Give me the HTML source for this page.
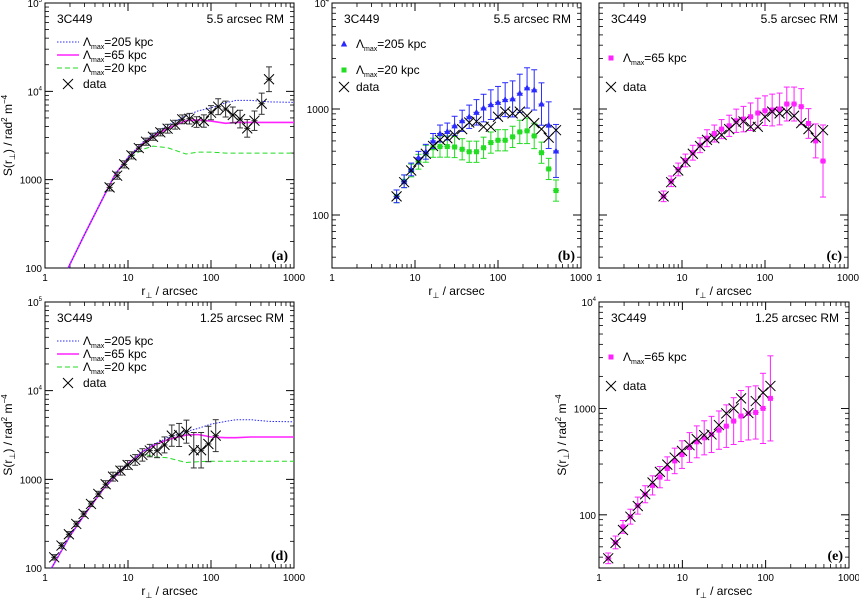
<!DOCTYPE html>
<html><head><meta charset="utf-8"><style>
html,body{margin:0;padding:0;background:#fff;}
svg{display:block;font-family:"Liberation Sans",sans-serif;}
</style></head><body>
<svg id="fig" width="859" height="598" viewBox="0 0 859 598"></svg>
<script>
// ---------- data ----------
const xA = [6.0,7.4,9.0,11,13.5,16.5,20,24.5,30,37,45,55,67,82,100,122,150,183,224,273,334,408,500];
const dataA = [818,1109,1490,1884,2280,2690,3060,3435,3775,4190,4820,4900,4490,4610,5730,6700,6300,5400,4850,3810,4650,7240,13700];
const errA = [0.04,0.04,0.04,0.04,0.04,0.04,0.04,0.04,0.05,0.05,0.05,0.06,0.06,0.07,0.08,0.09,0.09,0.09,0.1,0.1,0.11,0.12,0.14];
const modelXA = [1.9,3,5,7,10,15,20,30,50,70,100,150,200,300,500,700,1000];
const blueA = [100,240,620,1150,1800,2650,3300,4100,5300,6000,6500,7400,7900,7900,7600,7550,7500];
const pinkA = [100,240,620,1150,1750,2550,3100,3800,4650,4750,4600,4350,4450,4450,4450,4450,4450];
const greenA = [100,240,620,1150,1700,2200,2400,2300,1950,2050,2050,2000,2000,2000,2000,2000,2000];

const dataB = [150,204,263,318,378,448,511,530,570,646,746,763,679,679,845,944,910,944,863,736,646,537,631];
const blueB = [150,208,269,347,395,500,587,613,694,774,845,930,1021,1099,1156,1225,1245,1407,1581,1514,1114,704,402];
const blueErrB = [0.06,0.06,0.06,0.06,0.07,0.07,0.08,0.08,0.09,0.1,0.11,0.12,0.13,0.14,0.15,0.16,0.17,0.18,0.19,0.19,0.2,0.22,0.25];
const greenB = [150,208,263,318,378,431,442,442,438,417,395,395,431,482,507,507,546,608,622,557,387,272,170];
const greenErrB = [0.06,0.06,0.06,0.07,0.08,0.09,0.1,0.1,0.1,0.1,0.1,0.1,0.1,0.1,0.1,0.1,0.1,0.11,0.12,0.12,0.1,0.1,0.1];
const pinkC = [150,208,269,327,387,455,530,587,646,694,774,803,845,916,964,978,1000,1114,1114,1052,730,500,323];
const pinkErrC = [0.05,0.05,0.06,0.06,0.07,0.07,0.08,0.08,0.09,0.1,0.11,0.12,0.13,0.14,0.14,0.15,0.15,0.16,0.16,0.17,0.14,0.16,0.34];

const xD = [1.29,1.58,1.94,2.38,2.92,3.58,4.39,5.38,6.6,8.1,9.9,12.2,14.9,18.3,22.4,27.5,33.7,41.3,50.6,62,76,93,114];
const dataD = [132,179,240,314,407,528,684,880,1072,1253,1452,1655,1885,2110,2110,2445,3110,3165,3450,2130,2130,2505,3110];
const errD = [0.03,0.03,0.03,0.03,0.03,0.03,0.03,0.04,0.05,0.05,0.05,0.06,0.07,0.07,0.08,0.09,0.12,0.13,0.13,0.2,0.2,0.2,0.18];
const modelXD = [1.2,2,3,5,7,10,15,20,30,50,70,100,150,200,300,500,1000];
const blueD = [100,230,400,770,1080,1500,2050,2450,2950,3450,3750,4200,4500,4700,4700,4500,4450];
const pinkD = [100,230,400,770,1080,1500,2050,2400,2800,3150,3200,3000,2950,2950,3000,3000,3000];
const greenD = [100,230,400,770,1080,1480,1950,1800,1750,1550,1580,1600,1600,1600,1600,1600,1600];

const dataE = [39,54.5,72,96,121,156,201,253,296,345,399,451,514,560,569,697,898,1000,1242,904,1172,1406,1626];
const pinkE = [39,55,77,96,122,156,189,226,272,321,368,429,485,529,569,625,681,760,848,898,916,1000,1242];
const pinkErrE = [0.05,0.06,0.06,0.07,0.08,0.08,0.09,0.1,0.11,0.12,0.13,0.14,0.15,0.16,0.17,0.18,0.2,0.22,0.24,0.25,0.25,0.33,0.4];

const xTickLabels = ["1","10","100","1000"];

// ---------- helpers ----------
const NS = "http://www.w3.org/2000/svg";
const svg = document.getElementById("fig");
function mk(tag, attrs, parent){
  const e = document.createElementNS(NS, tag);
  for (const k in attrs) e.setAttribute(k, attrs[k]);
  (parent||svg).appendChild(e);
  return e;
}
const BLUE="#2a2aff", PINK="#ff22ff", GREEN="#22dd22";

function panel(o){
  const g = mk("g", {});
  
  
  const sx = v => o.L + (Math.log10(v) - 0) / 3 * (o.R - o.L);
  const sy = v => o.B - (Math.log10(v) - o.ymin) / (o.ymax - o.ymin) * (o.B - o.T);
  o.sx = sx; o.sy = sy; o.g = g;
  const frame = mk("rect", {x:o.L, y:o.T, width:o.R-o.L, height:o.B-o.T, fill:"none", stroke:"#000", "stroke-width":1}, g);
  
  
  for (let d=0; d<3; d++){
    for (let m=1; m<=10; m++){
      const v = Math.pow(10,d)*m; const X = sx(v); const len = (m===1||m===10)?8:4;
      mk("line",{x1:X,x2:X,y1:o.B,y2:o.B-len,stroke:"#000","stroke-width":0.8},g);
      mk("line",{x1:X,x2:X,y1:o.T,y2:o.T+len,stroke:"#000","stroke-width":0.8},g);
    }
  }
  xTickLabels.forEach((t,i)=>{
    const tx = mk("text",{x:sx(Math.pow(10,i)), y:o.B+13, "font-size":10, "text-anchor":"middle"}, g);
    tx.textContent = t;
    
    
  });
  const d0 = Math.floor(o.ymin);
  for (let d=d0; d<o.ymax; d++){
    for (let m=1; m<=10; m++){
      const v = Math.pow(10,d)*m; if (Math.log10(v) < o.ymin-1e-9 || Math.log10(v) > o.ymax+1e-9) continue;
      const Y = sy(v); const len = (m===1||m===10)?8:4;
      mk("line",{x1:o.L,x2:o.L+len,y1:Y,y2:Y,stroke:"#000","stroke-width":0.8},g);
      mk("line",{x1:o.R,x2:o.R-len,y1:Y,y2:Y,stroke:"#000","stroke-width":0.8},g);
    }
  }
  if (o.ylabels){
    for (let d=Math.ceil(o.ymin); d<=o.ymax; d++){
      const Y = sy(Math.pow(10,d));
      const tx = mk("text",{x:o.L-3, y:Y+4, "font-size":10, "text-anchor":"end"}, g);
      
      
      if (d<=3) tx.textContent = String(Math.pow(10,d));
      else { tx.textContent = "10"; const s = mk("tspan",{dy:-5,"font-size":6},tx); s.textContent=String(d); }
    }
  }
  if (o.ytitle){
    const yt = mk("text",{x:0,y:0,"font-size":12,"text-anchor":"middle",transform:`translate(${o.L-33},${(o.T+o.B)/2}) rotate(-90)`},g);
    
    
    yt.innerHTML = 'S(r<tspan dy="3" font-size="8">⊥</tspan><tspan dy="-3">) / rad</tspan><tspan dy="-5" font-size="8">2</tspan><tspan dy="5"> m</tspan><tspan dy="-5" font-size="8">−4</tspan>';
  }
  const xt = mk("text",{x:(o.L+o.R)/2, y:o.B+27, "font-size":12, "text-anchor":"middle"}, g);
  
  
  xt.innerHTML = 'r<tspan dy="3" font-size="8">⊥</tspan><tspan dy="-3"> / arcsec</tspan>';
  const src = mk("text",{x:o.L+12,y:o.T+20,"font-size":12},g);
  src.textContent = "3C449";
  
  
  const rm = mk("text",{x:o.R-10,y:o.T+20,"font-size":12,"text-anchor":"end"},g);
  rm.textContent = o.rm;
  
  
  const pl = mk("text",{x:o.R-6,y:o.B-8,"font-size":14,"font-weight":"bold","text-anchor":"end","font-family":"Liberation Serif, serif"},g);
  pl.textContent = "(" + o.id + ")";
  
  
  return o;
}

function modelLine(o, xs, ys, color, dash, w, name){
  const pts = xs.map((x,i)=>o.sx(x).toFixed(1)+","+o.sy(ys[i]).toFixed(1)).join(" ");
  const p = mk("polyline",{points:pts, fill:"none", stroke:color, "stroke-width":w, "stroke-dasharray":dash||"none"}, o.g);
  
  
}
function errBars(o, xs, ys, errs, color, name, hw){
  xs.forEach((x,i)=>{
    const X=o.sx(x), Y=o.sy(ys[i]);
    const e = errs ? errs[i] : 0;
    const g = mk("g",{stroke:color,"stroke-width":1,fill:"none"},o.g);
    
    
    if (e>0){
      const Y1=o.sy(ys[i]*Math.pow(10,e)), Y2=o.sy(ys[i]/Math.pow(10,e));
      mk("line",{x1:X,x2:X,y1:Y1,y2:Y2},g);
      mk("line",{x1:X-3,x2:X+3,y1:Y1,y2:Y1},g);
      mk("line",{x1:X-3,x2:X+3,y1:Y2,y2:Y2},g);
    }
    mk("line",{x1:X-hw,x2:X+hw,y1:Y,y2:Y},g);
  });
}
function crosses(o, xs, ys, name){
  xs.forEach((x,i)=>{
    const X=o.sx(x), Y=o.sy(ys[i]);
    const p = mk("path",{d:`M${X-5},${Y-5}L${X+5},${Y+5}M${X-5},${Y+5}L${X+5},${Y-5}`, stroke:"#000","stroke-width":1}, o.g);
    
    
  });
}
function markers(o, xs, ys, color, shape, name){
  xs.forEach((x,i)=>{
    const X=o.sx(x), Y=o.sy(ys[i]);
    let p;
    if (shape==="tri") p = mk("path",{d:`M${X},${Y-3.5}L${X+3.2},${Y+2.5}L${X-3.2},${Y+2.5}Z`, fill:color}, o.g);
    else p = mk("rect",{x:X-2.5,y:Y-2.5,width:5,height:5,fill:color}, o.g);
    
    
  });
}
function legendText(o, x, y, label, name){
  const t = mk("text",{x:x,y:y,"font-size":12},o.g);
  
  
  if (label==="data") t.textContent = "data";
  else t.innerHTML = 'Λ<tspan dy="3" font-size="7">max</tspan><tspan dy="-3">=' + label + ' kpc</tspan>';
}
function lineLegend(o, rows){
  rows.forEach((r,i)=>{
    const y = o.T + 43 + i*13;
    const l = mk("line",{x1:o.L+12,x2:o.L+34,y1:y-4,y2:y-4,stroke:r.c,"stroke-width":r.w,"stroke-dasharray":r.d||"none"},o.g);
    
    
    legendText(o, o.L+38, y, r.t, 'legend-entry');
  });
  const y = o.T + 43 + rows.length*13 + 3;
  const X=o.L+23, Y=y-4;
  const p = mk("path",{d:`M${X-5},${Y-5}L${X+5},${Y+5}M${X-5},${Y+5}L${X+5},${Y-5}`, stroke:"#000","stroke-width":1}, o.g);
  
  
  legendText(o, o.L+38, y, "data", 'legend-entry');
}
function markerLegend(o, rows, dataY){
  rows.forEach(r=>{
    const y = o.T + r.y;
    const X=o.L+12, Y=y-4;
    let p;
    if (r.s==="tri") p = mk("path",{d:`M${X},${Y-3.5}L${X+3.2},${Y+2.5}L${X-3.2},${Y+2.5}Z`, fill:r.c}, o.g);
    else p = mk("rect",{x:X-2.5,y:Y-2.5,width:5,height:5,fill:r.c}, o.g);
    
    
    legendText(o, o.L+24, y, r.t, 'legend-entry');
  });
  const y = o.T + dataY, X=o.L+12, Y=y-4;
  const p = mk("path",{d:`M${X-5},${Y-5}L${X+5},${Y+5}M${X-5},${Y+5}L${X+5},${Y-5}`, stroke:"#000","stroke-width":1}, o.g);
  
  
  legendText(o, o.L+24, y, "data", 'legend-entry');
}

// ---------- panel a ----------
const A = panel({id:"a",L:45,R:294,T:3,B:268,ymin:2,ymax:5,ylabels:true,ytitle:true,rm:"5.5 arcsec RM"});
modelLine(A, modelXA, greenA, GREEN, "5,3", 1, "model-20kpc");
modelLine(A, modelXA, pinkA, PINK, null, 1.6, "model-65kpc");
modelLine(A, modelXA, blueA, BLUE, "1.5,1.5", 1, "model-205kpc");
errBars(A, xA, dataA, errA, "#333", "data", 3);
crosses(A, xA, dataA, "data-point");
lineLegend(A, [{c:BLUE,w:1,d:"1.5,1.5",t:"205"},{c:PINK,w:1.6,t:"65"},{c:GREEN,w:1,d:"5,3",t:"20"}]);

// ---------- panel b ----------
const Bp = panel({id:"b",L:332,R:581,T:3,B:268,ymin:1.5,ymax:4,ylabels:true,ytitle:false,rm:"5.5 arcsec RM"});
errBars(Bp, xA, greenB, greenErrB, GREEN, "sim-20kpc", 3);
markers(Bp, xA, greenB, GREEN, "sq", "sim-20kpc-point");
errBars(Bp, xA, blueB, blueErrB, BLUE, "sim-205kpc", 3);
markers(Bp, xA, blueB, BLUE, "tri", "sim-205kpc-point");
crosses(Bp, xA, dataB, "data-point");
markerLegend(Bp, [{c:BLUE,s:"tri",t:"205",y:45},{c:GREEN,s:"sq",t:"20",y:71}], 88);

// ---------- panel c ----------
const C = panel({id:"c",L:599,R:848,T:3,B:268,ymin:1.5,ymax:4,ylabels:false,ytitle:false,rm:"5.5 arcsec RM"});
errBars(C, xA, pinkC, pinkErrC, PINK, "sim-65kpc", 3);
markers(C, xA, pinkC, PINK, "sq", "sim-65kpc-point");
crosses(C, xA, dataB, "data-point");
markerLegend(C, [{c:PINK,s:"sq",t:"65",y:59}], 88);

// ---------- panel d ----------
const D = panel({id:"d",L:45,R:294,T:302,B:568,ymin:2,ymax:5,ylabels:true,ytitle:true,rm:"1.25 arcsec RM"});
modelLine(D, modelXD, greenD, GREEN, "5,3", 1, "model-20kpc");
modelLine(D, modelXD, pinkD, PINK, null, 1.6, "model-65kpc");
modelLine(D, modelXD, blueD, BLUE, "1.5,1.5", 1, "model-205kpc");
errBars(D, xD, dataD, errD, "#333", "data", 3);
crosses(D, xD, dataD, "data-point");
lineLegend(D, [{c:BLUE,w:1,d:"1.5,1.5",t:"205"},{c:PINK,w:1.6,t:"65"},{c:GREEN,w:1,d:"5,3",t:"20"}]);

// ---------- panel e ----------
const E = panel({id:"e",L:599,R:849,T:302,B:568,ymin:1.5,ymax:4,ylabels:true,ytitle:true,rm:"1.25 arcsec RM"});
errBars(E, xD, pinkE, pinkErrE, PINK, "sim-65kpc", 3);
markers(E, xD, pinkE, PINK, "sq", "sim-65kpc-point");
crosses(E, xD, dataE, "data-point");
markerLegend(E, [{c:PINK,s:"sq",t:"65",y:59}], 88);
</script>
</body></html>
